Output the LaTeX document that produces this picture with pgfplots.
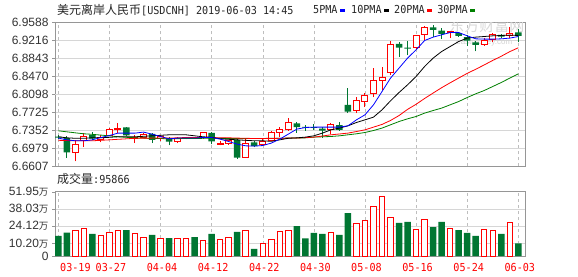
\documentclass[border=0pt]{standalone}
\usepackage{pgfplots}
\usepackage{pgfplotstable}
\pgfplotsset{compat=1.18}
\usepackage{fontspec}
\setmainfont{Liberation Sans}
\newfontfamily\cjk{Noto Sans CJK SC}
\newfontfamily\mono[FakeStretch=0.92]{DejaVu Sans Mono}
\newcommand\mf{\mono\fontsize{11}{11}\selectfont}
\newcommand\cf{\cjk\fontsize{12}{12}\selectfont}
\definecolor{cred}{RGB}{255,0,0}
\definecolor{cgreen}{RGB}{0,118,50}
\definecolor{mgreen}{RGB}{0,128,0}
\definecolor{frame}{RGB}{150,150,150}
\definecolor{gridc}{RGB}{214,214,214}
\definecolor{vgrid}{RGB}{190,190,190}
\definecolor{lbl}{RGB}{51,51,51}

\pgfplotstableread{
i o h l c v
2 6.6905 6.7159 6.6712 6.7070 21.0
3 6.7139 6.7294 6.7021 6.7232 22.4
5 6.7174 6.7263 6.7104 6.7215 16.2
6 6.7257 6.7408 6.7242 6.7383 18.6
7 6.7377 6.7501 6.7304 6.7398 20.2
9 6.7180 6.7253 6.7091 6.7211 17.8
10 6.7205 6.7294 6.7190 6.7263 15.3
12 6.7180 6.7263 6.7139 6.7222 14.5
14 6.7133 6.7220 6.7090 6.7195 14.5
15 6.7190 6.7215 6.7170 6.7198 14.5
17 6.7211 6.7331 6.7180 6.7304 12.9
19 6.7066 6.7145 6.7042 6.7087 13.7
20 6.7083 6.7159 6.7056 6.7139 15.3
22 6.6801 6.7205 6.6787 6.7091 20.2
24 6.7056 6.7207 6.7042 6.7133 10.5
25 6.7153 6.7335 6.7139 6.7304 13.7
26 6.7315 6.7422 6.7228 6.7366 19.4
27 6.7381 6.7605 6.7346 6.7511 20.2
32 6.7366 6.7505 6.7284 6.7476 19.1
35 6.7766 6.8043 6.7712 6.7967 26.4
36 6.7952 6.8126 6.7836 6.8085 28.8
37 6.8112 6.8644 6.8043 6.8381 40.1
38 6.8395 6.8665 6.8195 6.8457 48.2
39 6.8561 6.9209 6.8505 6.9140 31.3
42 6.9078 6.9333 6.9037 6.9312 21.5
43 6.9333 6.9519 6.9229 6.9493 29.6
46 6.9381 6.9422 6.9263 6.9397 22.4
50 6.9126 6.9263 6.9105 6.9215 21.5
51 6.9242 6.9368 6.9194 6.9333 21.0
53 6.9312 6.9493 6.9263 6.9368 27.2
}\redc

\pgfplotstableread{
i o h l c v
0 6.7228 6.7260 6.7180 6.7205 16.2
1 6.7195 6.7242 6.6793 6.6897 18.8
4 6.7257 6.7325 6.7159 6.7184 17.8
8 6.7418 6.7435 6.7232 6.7253 21.0
11 6.7284 6.7304 6.7091 6.7159 17.0
13 6.7195 6.7222 6.7042 6.7124 14.5
16 6.7208 6.7225 6.7185 6.7192 15.3
18 6.7304 6.7325 6.7066 6.7128 17.8
21 6.7159 6.7180 6.6766 6.6793 19.4
23 6.7108 6.7128 6.7001 6.7029 5.7
28 6.7501 6.7522 6.7304 6.7422 24.2
29 6.7428 6.7470 6.7352 6.7411 14.3
30 6.7424 6.7482 6.7366 6.7406 18.6
31 6.7393 6.7435 6.7201 6.7352 17.8
33 6.7463 6.7532 6.7346 6.7366 17.0
34 6.7884 6.8230 6.7712 6.7745 34.7
40 6.9147 6.9194 6.8884 6.9070 26.7
41 6.9070 6.9215 6.8914 6.9049 27.5
44 6.9488 6.9540 6.9295 6.9437 23.4
45 6.9422 6.9470 6.9242 6.9354 27.5
47 6.9368 6.9401 6.9285 6.9312 21.0
48 6.9285 6.9333 6.9105 6.9215 18.6
49 6.9174 6.9215 6.8988 6.9126 16.2
52 6.9333 6.9354 6.9263 6.9298 17.8
54 6.9381 6.9450 6.9174 6.9312 10.3
}\greenc

\pgfplotstableread{
i m5 m10 m20 m30
0 6.7195 6.7222 6.7149 6.7346
1 6.7159 6.7201 6.7145 6.7325
2 6.7139 6.7191 6.7139 6.7304
3 6.7139 6.7191 6.7139 6.7284
4 6.7159 6.7201 6.7139 6.7273
5 6.7207 6.7201 6.7149 6.7257
6 6.7248 6.7211 6.7159 6.7242
7 6.7298 6.7222 6.7170 6.7222
8 6.7298 6.7222 6.7180 6.7211
9 6.7298 6.7222 6.7191 6.7201
10 6.7319 6.7232 6.7191 6.7195
11 6.7277 6.7242 6.7195 6.7191
12 6.7228 6.7253 6.7195 6.7186
13 6.7180 6.7263 6.7195 6.7180
14 6.7195 6.7263 6.7201 6.7184
15 6.7195 6.7263 6.7207 6.7186
16 6.7195 6.7242 6.7207 6.7188
17 6.7207 6.7222 6.7207 6.7190
18 6.7207 6.7211 6.7207 6.7190
19 6.7174 6.7180 6.7201 6.7190
20 6.7124 6.7170 6.7201 6.7188
21 6.7070 6.7159 6.7195 6.7186
22 6.7035 6.7149 6.7191 6.7186
23 6.7029 6.7139 6.7186 6.7186
24 6.7041 6.7139 6.7186 6.7188
25 6.7091 6.7128 6.7186 6.7190
26 6.7174 6.7159 6.7191 6.7192
27 6.7277 6.7191 6.7195 6.7195
28 6.7381 6.7200 6.7195 6.7195
29 6.7414 6.7215 6.7205 6.7200
30 6.7422 6.7242 6.7215 6.7215
31 6.7422 6.7298 6.7238 6.7222
32 6.7422 6.7366 6.7263 6.7228
33 6.7422 6.7402 6.7280 6.7242
34 6.7449 6.7449 6.7298 6.7263
35 6.7573 6.7518 6.7331 6.7284
36 6.7677 6.7573 6.7366 6.7311
37 6.7884 6.7629 6.7422 6.7352
38 6.8159 6.7780 6.7478 6.7402
39 6.8437 6.7967 6.7560 6.7470
40 6.8644 6.8139 6.7662 6.7538
41 6.8851 6.8298 6.7790 6.7594
42 6.9022 6.8470 6.7895 6.7642
43 6.9215 6.8677 6.8015 6.7712
44 6.9285 6.8851 6.8128 6.7766
45 6.9333 6.8987 6.8238 6.7816
46 6.9381 6.9091 6.8340 6.7884
47 6.9381 6.9194 6.8438 6.7952
48 6.9312 6.9265 6.8535 6.8035
49 6.9250 6.9285 6.8620 6.8112
50 6.9244 6.9298 6.8710 6.8180
51 6.9244 6.9312 6.8803 6.8263
52 6.9250 6.9319 6.8890 6.8346
53 6.9265 6.9327 6.8985 6.8437
54 6.9298 6.9319 6.9065 6.8526
}\ma

\pgfplotsset{
  pframe/.style={scale only axis, width=470.3pt, height=144pt,
    at={(55pt,109.5pt)}, anchor=south west,
    xmin=-0.387, xmax=54.82, ymin=6.6607, ymax=6.9588, enlargelimits=false},
  player/.style={pframe, hide axis},
}

\begin{document}
\begin{tikzpicture}
\useasboundingbox (0,0) rectangle (578pt,276pt);
\fill[white] (0,0) rectangle (578pt,276pt);

% title and legend
\node[anchor=base west, inner sep=0pt, text=black!85] at (57pt,261pt)
  {\cf 美元离岸人民币\mf[USDCNH] 2019-06-03 14:45};
\node[anchor=base west, inner sep=0pt, text=black!85] at (313pt,262pt)
  {\mf 5PMA\hspace{2.6pt}\textcolor{blue}{\rule[2pt]{5pt}{2.7pt}}\hspace{6pt}10PMA\hspace{2.6pt}\textcolor{black}{\rule[2pt]{5pt}{2.7pt}}\hspace{5pt}20PMA\hspace{2.6pt}\textcolor{cred}{\rule[2pt]{5pt}{2.7pt}}\hspace{5pt}30PMA\hspace{2.6pt}\textcolor{mgreen}{\rule[2pt]{5pt}{2.7pt}}};
\node[anchor=base west, inner sep=0pt, text=black!85] at (57pt,92.7pt)
  {\cf 成交量\mf:95866};

% price panel: frame, grid, wicks
\begin{axis}[pframe,
  axis line style={frame},
  xtick={0,6,...,54}, xticklabels={}, xmajorgrids,
  x grid style={vgrid, dash pattern=on 3pt off 3pt},
  xtick style={draw=none},
  ytick={6.6607,6.6979,6.7352,6.7725,6.8098,6.8470,6.8843,6.9216,6.9588},
  yticklabels={6.6607,6.6979,6.7352,6.7725,6.8098,6.8470,6.8843,6.9216,6.9588},
  ymajorgrids, y grid style={gridc},
  extra y ticks={6.8098}, extra y tick labels={},
  extra y tick style={grid style={frame}},
  ytick style={frame}, ytick align=outside, ytick pos=left, major tick length=3pt,
  yticklabel style={font=\fontsize{12}{12}\selectfont, text=lbl},
]
\node[text=gray!30, font=\cjk\fontsize{15}{15}\selectfont] at (axis cs:50.3,6.9530) {东方财富网};
\node[text=gray!35, font=\fontsize{8}{8}\selectfont] at (axis cs:50.0,6.9160) {eastmoney.com};
\addplot[draw=none, mark=none, forget plot,
  error bars/.cd, y dir=plus, y explicit, error mark=none,
  error bar style={draw=cred, line width=1pt, solid}]
  table[x=i, y=l, y error expr=\thisrow{h}-\thisrow{l}] {\redc};
\addplot[draw=none, mark=none, forget plot,
  error bars/.cd, y dir=plus, y explicit, error mark=none,
  error bar style={draw=cgreen, line width=1pt, solid}]
  table[x=i, y=l, y error expr=\thisrow{h}-\thisrow{l}] {\greenc};
\end{axis}

% green bodies
\begin{axis}[player, ybar stacked, bar width=6.5pt]
\addplot[draw=none, fill=none] table[x=i, y=c] {\greenc};
\addplot[draw=none, fill=cgreen] table[x=i, y expr=\thisrow{o}-\thisrow{c}] {\greenc};
\end{axis}

% red bodies
\begin{axis}[player, ybar stacked, bar width=6pt]
\addplot[draw=none, fill=none] table[x=i, y=o] {\redc};
\addplot[draw=cred, fill=white, line width=1pt] table[x=i, y expr=\thisrow{c}-\thisrow{o}] {\redc};
\end{axis}

% moving averages
\begin{axis}[player]
\addplot[mgreen, line width=0.8pt, mark=none] table[x=i, y=m30] {\ma};
\addplot[cred, line width=0.8pt, mark=none] table[x=i, y=m20] {\ma};
\addplot[black, line width=0.8pt, mark=none] table[x=i, y=m10] {\ma};
\addplot[blue, line width=0.8pt, mark=none] table[x=i, y=m5] {\ma};
\end{axis}

% volume panel
\begin{axis}[scale only axis, width=470.3pt, height=64.3pt,
  at={(55pt,20pt)}, anchor=south west,
  xmin=-0.387, xmax=54.82, ymin=0, ymax=51.95, enlargelimits=false,
  axis line style={frame},
  xtick={0,6,...,54},
  xticklabels={,03-27,04-04,04-12,04-22,04-30,05-08,05-16,05-24,06-03},
  xticklabel style={font=\mf, text=cred, inner sep=0pt, yshift=-7.3pt, xshift=1.5pt},
  xmajorgrids, x grid style={vgrid, dash pattern=on 3pt off 3pt},
  xtick style={draw=none},
  ytick={0,10.20,24.12,38.03,51.95},
  yticklabels={0,{10.20{\cjk\fontsize{9.5}{9.5}\selectfont 万}},{24.12{\cjk\fontsize{9.5}{9.5}\selectfont 万}},{38.03{\cjk\fontsize{9.5}{9.5}\selectfont 万}},{51.95{\cjk\fontsize{9.5}{9.5}\selectfont 万}}},
  ymajorgrids, y grid style={gridc},
  ytick style={frame}, ytick align=outside, ytick pos=left, major tick length=3pt,
  yticklabel style={font=\fontsize{12}{12}\selectfont, text=lbl},
]
\addplot[ybar, bar width=6.5pt, bar shift=0pt, fill=cgreen, draw=none] table[x=i, y=v] {\greenc};
\addplot[ybar, bar width=5.5pt, bar shift=0pt, fill=white, draw=cred, line width=1pt] table[x=i, y=v] {\redc};
\end{axis}
\node[text=cred, font=\mf, inner sep=0pt, anchor=north west] at (60pt,12.7pt) {03-19};
\end{tikzpicture}
\end{document}
